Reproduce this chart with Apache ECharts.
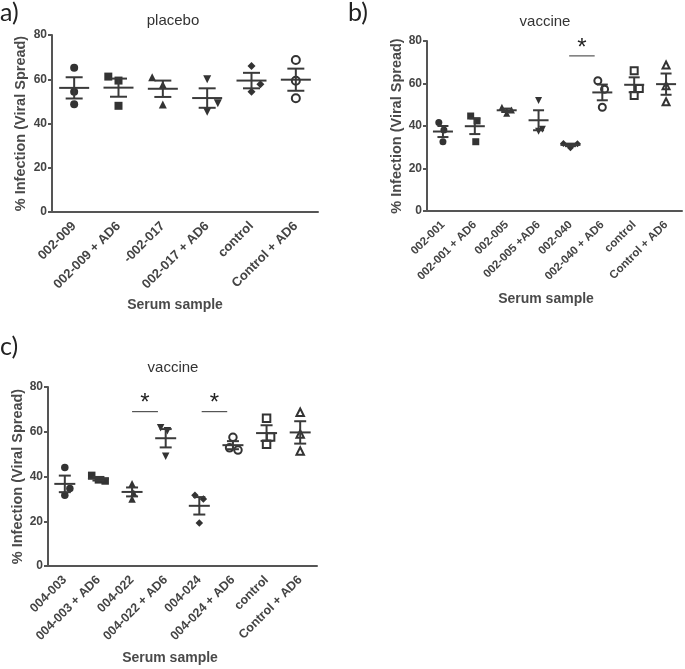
<!DOCTYPE html>
<html><head><meta charset="utf-8">
<script src="https://cdn.jsdelivr.net/npm/echarts@6/dist/echarts.min.js"></script>
<style>html,body{margin:0;padding:0;background:#fff}#c{width:685px;height:669px}</style>
</head><body><div id="c"></div>
<script>
// ---- Panel a (placebo)
const catsA = ['002-009', '002-009 + AD6', '-002-017', '002-017 + AD6', 'control', 'Control + AD6'];
const valsA = [[65.2, 54.4, 48.7], [61.2, 59.4, 48.0], [60.9, 57.5, 48.6], [60.0, 49.1, 45.3], [66.0, 57.7, 54.4], [68.7, 59.3, 51.4]];
const jitA  = [[0, 0, 0], [-0.23, 0, 0], [-0.24, 0, 0], [0, 0.24, 0], [0, 0.2, 0], [0, 0, 0]];
const meanA = [56.1, 56.2, 55.7, 51.5, 59.4, 59.8];
const semA  = [4.8, 4.1, 3.7, 4.4, 3.5, 5.0];

// ---- Panel b (vaccine)
const catsB = ['002-001', '002-001 + AD6', '002-005', '002-005 +AD6', '002-040', '002-040 + AD6', 'control', 'Control + AD6'];
const valsB = [[41.6, 38.1, 32.6], [44.7, 42.4, 32.6], [48.8, 47.5, 46.0], [52.0, 38.5, 37.5], [31.8, 29.8, 31.6], [61.3, 57.3, 48.8], [66.0, 57.7, 54.4], [68.7, 59.0, 51.4]];
const jitB  = [[-0.13, 0.03, 0], [-0.13, 0.07, 0.03], [-0.15, 0.15, 0], [0, 0.12, 0], [-0.22, 0, 0.22], [-0.14, 0.07, 0], [0, 0.16, 0], [0, 0, 0]];
const meanB = [37.4, 39.9, 47.4, 42.7, 31.1, 55.8, 59.4, 59.7];
const semB  = [2.6, 3.7, 0.8, 4.7, 0.6, 3.7, 3.5, 5.0];
const sigB  = [[3.96, 4.76, 73]];

// ---- Panel c (vaccine)
const catsC = ['004-003', '004-003 + AD6', '004-022', '004-022 + AD6', '004-024', '004-024 + AD6', 'control', 'Control + AD6'];
const valsC = [[44.0, 34.6, 31.6], [40.5, 38.5, 38.0], [36.8, 32.5, 30.0], [61.8, 60.5, 49.0], [31.6, 30.0, 19.2], [57.5, 52.8, 51.8], [66.0, 57.7, 54.4], [68.7, 59.0, 51.4]];
const jitC  = [[0, 0.15, 0], [-0.2, 0, 0.2], [0, 0.05, 0], [-0.15, 0.05, 0], [-0.13, 0.12, 0], [0, -0.1, 0.15], [0, 0.12, 0], [0, 0, 0]];
const meanC = [36.7, 39.0, 33.1, 57.1, 26.9, 54.0, 59.4, 59.7];
const semC  = [3.7, 0.8, 2.0, 4.1, 3.9, 1.8, 3.5, 5.0];
const sigC  = [[2.0, 2.77, 69], [4.07, 4.83, 69]];

const yTicks = [0, 20, 40, 60, 80];

// ---- styling
const DARK = '#333';
const AX = '#555';
const FONT = '"Liberation Sans", Arial, sans-serif';
const downTri = 'path://M0,0 L10,0 L5,9 Z';
const symbolsA = [
  {s: 'circle', open: false}, {s: 'rect', open: false}, {s: 'triangle', open: false},
  {s: downTri, open: false}, {s: 'diamond', open: false}, {s: 'circle', open: true}
];
const symbolsBC = [
  {s: 'circle', open: false}, {s: 'rect', open: false}, {s: 'triangle', open: false},
  {s: downTri, open: false}, {s: 'diamond', open: false}, {s: 'circle', open: true},
  {s: 'rect', open: true}, {s: 'triangle', open: true}
];

const panels = [
  {cats: catsA, vals: valsA, jit: jitA, mean: meanA, sem: semA, sig: [], syms: symbolsA,
   grid: {left: 52, top: 35, width: 266, height: 177}, lab: 13, mh: 15, ch: 8.5, ms: 8, nameGap: 24},
  {cats: catsB, vals: valsB, jit: jitB, mean: meanB, sem: semB, sig: sigB, syms: symbolsBC,
   grid: {left: 427, top: 41, width: 255, height: 170}, lab: 11.5, mh: 10, ch: 5.5, ms: 7, nameGap: 22},
  {cats: catsC, vals: valsC, jit: jitC, mean: meanC, sem: semC, sig: sigC, syms: symbolsBC,
   grid: {left: 48, top: 387, width: 269, height: 179}, lab: 12.5, mh: 10.5, ch: 6, ms: 7.5, nameGap: 22}
];

const grids = [], xAxes = [], yAxes = [], series = [];
panels.forEach((p, gi) => {
  grids.push(Object.assign({outerBoundsMode: 'none', containLabel: false}, p.grid));
  xAxes.push({
    gridIndex: gi, type: 'category', data: p.cats, boundaryGap: true,
    axisLine: {onZero: false, lineStyle: {color: AX, width: 2}},
    axisTick: {alignWithLabel: true, length: 5, lineStyle: {color: AX, width: 2}},
    axisLabel: {rotate: 45, interval: 0, margin: 12, color: '#444', fontSize: p.lab, fontWeight: 'bold', fontFamily: FONT}
  });
  xAxes.push({gridIndex: gi, type: 'value', min: -0.5, max: p.cats.length - 0.5, show: false,
    axisLine: {onZero: false}});
  yAxes.push({
    gridIndex: gi, type: 'value', min: 0, max: 80, interval: 20,
    splitLine: {show: false},
    axisLine: {show: true, onZero: false, lineStyle: {color: AX, width: 2}},
    axisTick: {show: true, length: 4, lineStyle: {color: AX, width: 2}},
    axisLabel: {color: '#444', fontSize: 12, fontWeight: 'bold', fontFamily: FONT, margin: 5,
      formatter: v => yTicks.includes(v) ? String(v) : ''},
    name: '% Infection (Viral Spread)', nameLocation: 'middle', nameRotate: 90, nameGap: p.nameGap,
    nameTextStyle: {color: '#4a4a4a', fontSize: 14.5, fontWeight: 'bold', fontFamily: FONT}
  });
  const vx = gi * 2 + 1;
  p.vals.forEach((arr, ci) => {
    const sym = p.syms[ci];
    series.push({
      type: 'scatter', xAxisIndex: vx, yAxisIndex: gi, symbol: sym.s, symbolSize: p.ms, z: 2,
      itemStyle: sym.open ? {color: '#fff', borderColor: DARK, borderWidth: 2, opacity: 1} : {color: DARK, opacity: 1},
      data: arr.map((v, k) => [ci + p.jit[ci][k], v]),
      silent: true
    });
  });
  series.push({
    type: 'custom', xAxisIndex: vx, yAxisIndex: gi, z: 3, silent: true,
    data: p.mean.map((m, ci) => [ci, m, p.sem[ci]]),
    renderItem: (params, api) => {
      const x = api.value(0), m = api.value(1), s = api.value(2);
      const pm = api.coord([x, m]), pt = api.coord([x, m + s]), pb = api.coord([x, m - s]);
      const st = {stroke: '#3a3a3a', lineWidth: 2};
      return {type: 'group', children: [
        {type: 'line', shape: {x1: pm[0] - p.mh, y1: pm[1], x2: pm[0] + p.mh, y2: pm[1]}, style: st},
        {type: 'line', shape: {x1: pt[0], y1: pt[1], x2: pb[0], y2: pb[1]}, style: st},
        {type: 'line', shape: {x1: pt[0] - p.ch, y1: pt[1], x2: pt[0] + p.ch, y2: pt[1]}, style: st},
        {type: 'line', shape: {x1: pb[0] - p.ch, y1: pb[1], x2: pb[0] + p.ch, y2: pb[1]}, style: st}
      ]};
    }
  });
  if (p.sig.length) {
    series.push({
      type: 'custom', xAxisIndex: vx, yAxisIndex: gi, z: 3, silent: true,
      data: p.sig,
      renderItem: (params, api) => {
        const a = api.coord([api.value(0), api.value(2)]);
        const b = api.coord([api.value(1), api.value(2)]);
        return {type: 'group', children: [
          {type: 'line', shape: {x1: a[0], y1: a[1], x2: b[0], y2: b[1]}, style: {stroke: '#555', lineWidth: 1.2}},
          {type: 'text', x: (a[0] + b[0]) / 2, y: a[1] + 4,
           style: {text: '*', fill: '#222', fontSize: 24, fontFamily: FONT, align: 'center', verticalAlign: 'bottom'}}
        ]};
      }
    });
  }
});

const tStyle = (size, weight, color, family) => ({fontSize: size, fontWeight: weight, color: color, fontFamily: family});
const titles = [
  {text: 'a)', left: 0, top: 0, textStyle: tStyle(25, 'normal', '#222', 'Lato, "Open Sans", sans-serif')},
  {text: 'b)', left: 348, top: 0, textStyle: tStyle(25, 'normal', '#222', 'Lato, "Open Sans", sans-serif')},
  {text: 'c)', left: 0, top: 334, textStyle: tStyle(25, 'normal', '#222', 'Lato, "Open Sans", sans-serif')},
  {text: 'placebo', left: 173, textAlign: 'center', top: 13, textStyle: tStyle(15, 'normal', '#333', FONT)},
  {text: 'vaccine', left: 545, textAlign: 'center', top: 14, textStyle: tStyle(15, 'normal', '#333', FONT)},
  {text: 'vaccine', left: 173, textAlign: 'center', top: 360, textStyle: tStyle(15, 'normal', '#333', FONT)},
  {text: 'Serum sample', left: 175, textAlign: 'center', top: 298, textStyle: tStyle(14, 'bold', '#4a4a4a', FONT)},
  {text: 'Serum sample', left: 546, textAlign: 'center', top: 292, textStyle: tStyle(14, 'bold', '#4a4a4a', FONT)},
  {text: 'Serum sample', left: 170, textAlign: 'center', top: 651, textStyle: tStyle(14, 'bold', '#4a4a4a', FONT)}
].map(t => Object.assign({padding: 0}, t));

const chart = echarts.init(document.getElementById('c'), null, {renderer: 'canvas'});
chart.setOption({
  animation: false,
  backgroundColor: '#fff',
  title: titles,
  grid: grids,
  xAxis: xAxes,
  yAxis: yAxes,
  series: series
});
</script>
</body></html>
